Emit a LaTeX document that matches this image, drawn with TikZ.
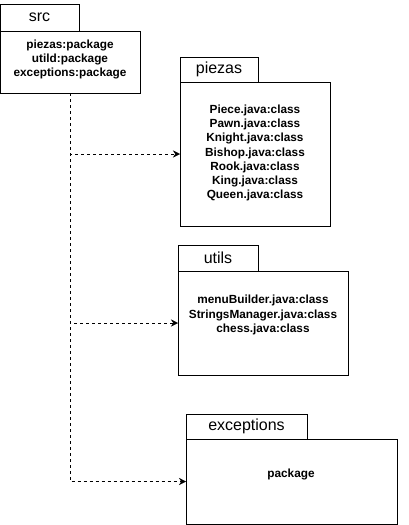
\documentclass[tikz,border=0pt]{standalone}
\usepackage{fontspec}
\setmainfont{Liberation Sans}
\usetikzlibrary{arrows.meta}

\tikzset{
  pkgbody/.style={draw, inner sep=0pt, outer sep=0pt, anchor=north west},
  pkgtab/.style={draw, inner sep=0pt, outer sep=0pt, anchor=south west,
    font=\fontsize{16}{19}\selectfont},
  pkgtext/.style={align=center, inner sep=0pt,
    font=\bfseries\fontsize{11.8}{14.3}\selectfont},
  dep/.style={dash pattern=on 3pt off 3pt, -{Stealth[length=7pt,width=7pt]}}
}

\begin{document}
\begin{tikzpicture}[x=1pt,y=-1pt]
\useasboundingbox (0,0) rectangle (409,525);

% src package
\node[pkgbody, minimum width=140pt, minimum height=62pt] (src) at (0,31) {};
\node[pkgtab, minimum width=79pt, minimum height=27pt] (srctab) at (src.north west) {src};
\node[pkgtext] (srclist) at (70,59.5) {piezas:package\\utild:package\\exceptions:package};

% piezas package
\node[pkgbody, minimum width=150pt, minimum height=144pt] (piezas) at (180,82) {};
\node[pkgtab, minimum width=78pt, minimum height=25pt] (piezastab) at (piezas.north west) {piezas};
\node[pkgtext] (piezaslist) at (255,153) {Piece.java:class\\Pawn.java:class\\Knight.java:class\\Bishop.java:class\\Rook.java:class\\King.java:class\\Queen.java:class};

% utils package
\node[pkgbody, minimum width=170pt, minimum height=104pt] (utils) at (178,271) {};
\node[pkgtab, minimum width=80pt, minimum height=26pt] (utilstab) at (utils.north west) {utils};
\node[pkgtext] (utilslist) at (263,315) {menuBuilder.java:class\\StringsManager.java:class\\chess.java:class};

% exceptions package
\node[pkgbody, minimum width=211pt, minimum height=85pt] (exceptions) at (186,439) {};
\node[pkgtab, minimum width=121pt, minimum height=25pt] (exceptionstab) at (exceptions.north west) {exceptions};
\node[pkgtext] (exceptionslist) at (291,474) {package};

% dependencies
\draw[dep] (src.south) |- (piezas.west);
\draw[dep] (src.south) |- (utils.west);
\draw[dep] (src.south) |- (exceptions.west);

\end{tikzpicture}
\end{document}
